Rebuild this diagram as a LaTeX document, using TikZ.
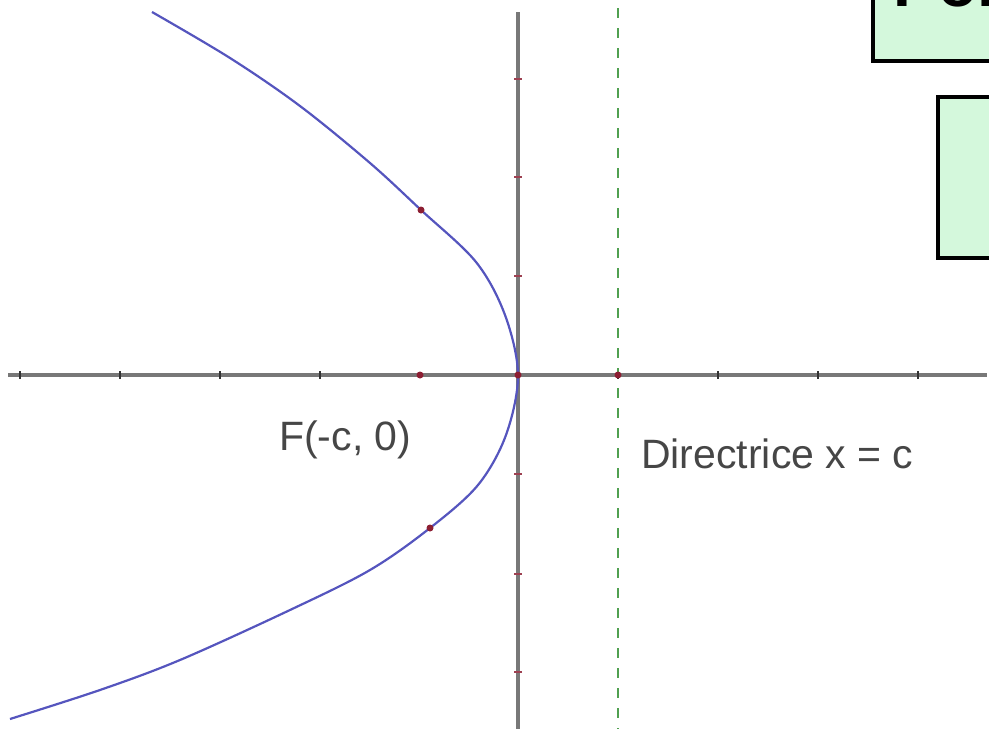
\documentclass[tikz,border=0pt]{standalone}
\usepackage{fontspec}
\setmainfont{Liberation Sans}
\definecolor{boxgreen}{RGB}{212,248,220}
\definecolor{axisgray}{RGB}{120,120,120}
\definecolor{curveblue}{RGB}{85,85,190}
\definecolor{dotred}{RGB}{140,30,50}
\definecolor{dirgreen}{RGB}{80,160,80}
\definecolor{labelgray}{RGB}{70,70,70}
\begin{document}
\begin{tikzpicture}[x=1pt,y=-1pt,
  axis/.style={draw=axisgray,line width=3.2pt},
  tickh/.style={draw=black!80,line width=1.8pt},
  tickv/.style={draw=dotred!85,line width=1.8pt},
  curve/.style={draw=curveblue,line width=2.2pt},
  dir/.style={draw=dirgreen,line width=1.5pt,dash pattern=on 10pt off 10pt},
  pt/.style={circle,fill=dotred,inner sep=0pt,minimum size=7pt},
  lbl/.style={font=\fontsize{41}{48}\selectfont,text=labelgray,inner sep=0pt},
  greenbox/.style={draw=black,fill=boxgreen,line width=3.5pt},
  title/.style={font=\fontsize{64}{72}\selectfont\bfseries,inner sep=0pt}]
\useasboundingbox (0,0) rectangle (989,729);
\clip (0,0) rectangle (989,729);
% boxes
\draw[greenbox] (873,-20) rectangle (1010,61);
\node[title,anchor=base west] (ttl) at (893,6) {F\hspace{6pt}orme};
\draw[greenbox] (938,97) rectangle (1010,258);
% axes
\coordinate (xl) at (8,375); \coordinate (xr) at (987,375);
\coordinate (yt) at (518,12); \coordinate (yb) at (518,740);
\draw[axis] (xl) -- (xr);
\draw[axis] (yt) -- (yb);
\foreach \x in {20,120,220,320,618,718,818,918}
  \draw[tickh] (\x,371) -- (\x,379);
\foreach \y in {79,177,276,474,574,672}
  \draw[tickv] (514,\y) -- (522,\y);
% directrix
\coordinate (dt) at (618,8); \coordinate (db) at (618,740);
\draw[dir] (dt) -- (db);
% parabola
\draw[curve] plot[smooth,tension=0.55] coordinates {
 (152,12) (230,58) (300,106) (370,163) (421,210)
 (476,262) (505,315) (518,375) (506,435) (478,485)
 (430,528) (370,570) (290,610) (180,660) (100,690) (10,719)};
% points
\node[pt] (F) at (420,375) {};
\node[pt] (O) at (518,375) {};
\node[pt] (D) at (618,375) {};
\node[pt] (P1) at (421,210) {};
\node[pt] (P2) at (430,528) {};
% labels
\node[lbl,anchor=base west] (fl) at (279,450) {F(-c, 0)};
\node[lbl,anchor=base west] (dl) at (641,468) {Directrice x = c};
\end{tikzpicture}
\end{document}
